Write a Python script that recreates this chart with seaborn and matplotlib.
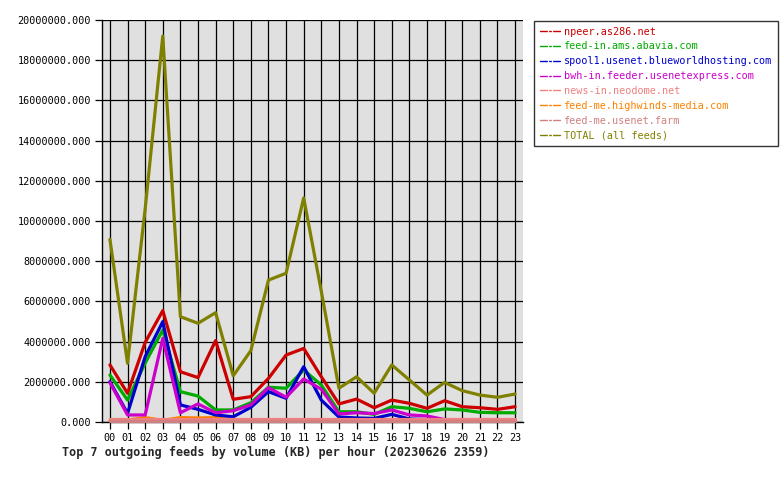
import matplotlib
matplotlib.use("Agg")
import matplotlib.pyplot as plt
import matplotlib.ticker as mticker
import seaborn as sns
import pandas as pd

hours = [f"{h:02d}" for h in range(24)]

# values in millions of KB
npeer = [2.84, 1.43, 3.96, 5.54, 2.50, 2.21, 4.05, 1.13, 1.26, 2.17, 3.33, 3.66,
         2.25, 0.90, 1.14, 0.71, 1.09, 0.93, 0.68, 1.06, 0.76, 0.71, 0.63, 0.76]
abavia = [2.34, 1.09, 2.93, 4.58, 1.51, 1.29, 0.60, 0.60, 0.96, 1.73, 1.68, 2.59,
          1.84, 0.51, 0.51, 0.38, 0.76, 0.68, 0.51, 0.65, 0.60, 0.48, 0.46, 0.46]
blueworld = [2.01, 0.43, 3.25, 4.99, 0.85, 0.63, 0.35, 0.26, 0.73, 1.51, 1.18, 2.75,
             1.09, 0.25, 0.20, 0.18, 0.38, 0.15, 0.12, 0.10, 0.10, 0.10, 0.10, 0.10]
usenetexpress = [1.96, 0.35, 0.35, 4.16, 0.46, 0.90, 0.46, 0.56, 0.85, 1.71, 1.23, 2.14,
                 1.63, 0.40, 0.46, 0.42, 0.60, 0.35, 0.30, 0.12, 0.12, 0.12, 0.12, 0.12]
neodome = [0.16] * 24
highwinds = [0.08, 0.10, 0.22, 0.08, 0.22, 0.20, 0.22, 0.08, 0.08, 0.08, 0.08, 0.08,
             0.08, 0.08, 0.08, 0.08, 0.08, 0.08, 0.08, 0.08, 0.08, 0.08, 0.08, 0.08]
usenetfarm = [0.06] * 24
total = [9.09, 2.92, 10.6, 19.2, 5.24, 4.91, 5.44, 2.30, 3.55, 7.06, 7.40, 11.15,
         6.5, 1.68, 2.25, 1.43, 2.84, 2.09, 1.34, 1.97, 1.56, 1.34, 1.23, 1.39]

series_names = ["npeer.as286.net", "feed-in.ams.abavia.com",
                "spool1.usenet.blueworldhosting.com", "bwh-in.feeder.usenetexpress.com",
                "news-in.neodome.net", "feed-me.highwinds-media.com",
                "feed-me.usenet.farm", "TOTAL (all feeds)"]
series_values = [npeer, abavia, blueworld, usenetexpress, neodome, highwinds,
                 usenetfarm, total]
colors = ["#CC0000", "#00AA00", "#0000CC", "#CC00CC", "#F08080", "#FF8000",
          "#D08080", "#808000"]

rows = []
for name, vals in zip(series_names, series_values):
    for i, (h, v) in enumerate(zip(hours, vals)):
        rows.append({"idx": i, "hour": h, "feed": name, "kb": v * 1_000_000})
df = pd.DataFrame(rows)

sns.set_style("white")
plt.rcParams["font.family"] = ["DejaVu Sans Mono"]

fig = plt.figure(figsize=(7.8, 4.8), dpi=100)
ax = fig.add_axes([102 / 780, 1 - 422 / 480, (523 - 102) / 780, (422 - 20) / 480])
ax.set_facecolor("#E0E0E0")

sns.lineplot(data=df, x="idx", y="kb", hue="feed", hue_order=series_names,
             palette=colors, linewidth=2.3, sort=False, ax=ax, legend=True)

lines = ax.get_lines()
for k, ln in enumerate(lines[:len(series_names)]):
    ln.set_zorder(2.0 + k * 0.01)
    ln.set_clip_on(False)
# highwinds sits beneath the two near-zero feeds
lines[5].set_zorder(1.9)

ax.set_xlim(-0.45, 23.45)
ax.set_ylim(0, 20_000_000)
ax.set_xticks(range(24))
ax.set_xticklabels(hours)
ax.yaxis.set_major_locator(mticker.MultipleLocator(2_000_000))
ax.yaxis.set_major_formatter(mticker.FormatStrFormatter("%.3f"))
ax.set_xlabel("")
ax.set_ylabel("")
ax.grid(True, color="black", linewidth=0.9)
ax.set_axisbelow(True)
for s in ["top", "right"]:
    ax.spines[s].set_visible(False)
for s in ["left", "bottom"]:
    ax.spines[s].set_color("black")
    ax.spines[s].set_linewidth(1.0)
    ax.spines[s].set_zorder(1.5)
ax.tick_params(axis="both", which="major", direction="out", length=5, width=0.9,
               colors="black", labelsize=7.3, pad=3, left=True, bottom=True)

handles, labels = ax.get_legend_handles_labels()
ax.get_legend().remove()
for h in handles:
    h.set_linewidth(1.0)
    h.set_marker("s")
    h.set_markersize(3.5)
    h.set_markerfacecolor("none")
    h.set_markeredgewidth(0.9)
leg = fig.legend(handles, labels, loc="upper left",
                 bbox_to_anchor=(534 / 780, 1 - 21 / 480), frameon=True,
                 fancybox=False, edgecolor="black", fontsize=7.3,
                 handlelength=2.0, handletextpad=0.4, labelspacing=0.48,
                 borderpad=0.55, numpoints=1, borderaxespad=0)
leg.get_frame().set_linewidth(1.0)
for t, c in zip(leg.get_texts(), colors):
    t.set_color(c)

fig.text(62 / 780, 1 - 452 / 480,
         "Top 7 outgoing feeds by volume (KB) per hour (20230626 2359)",
         fontsize=8.5, fontweight="bold", ha="left", va="center")

fig.savefig("out.png", dpi=100, facecolor="white")
